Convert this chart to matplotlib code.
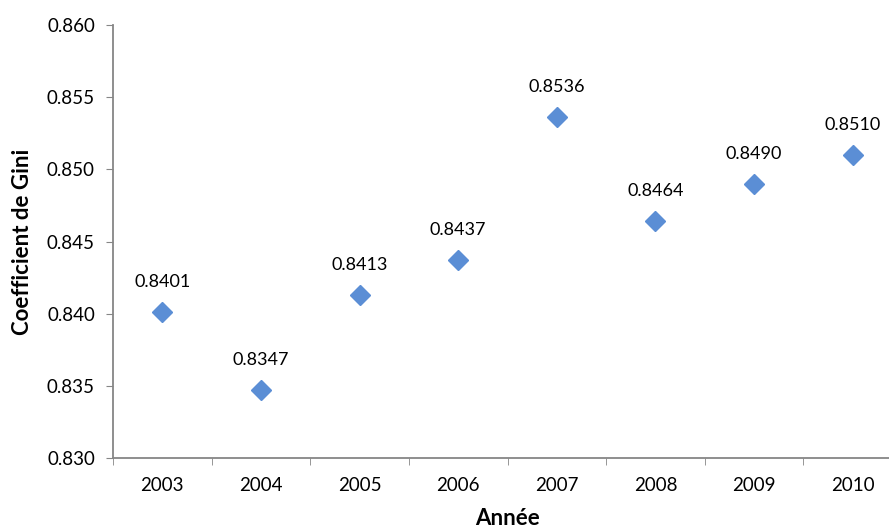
import matplotlib.pyplot as plt
import numpy as np

annees = ['2003', '2004', '2005', '2006', '2007', '2008', '2009', '2010']
gini = [0.8401, 0.8347, 0.8413, 0.8437, 0.8536, 0.8464, 0.8490, 0.8510]
yticks = [0.830, 0.835, 0.840, 0.845, 0.850, 0.855, 0.860]

plt.rcParams['font.family'] = ['Lato', 'DejaVu Sans']

fig = plt.figure(figsize=(8.89, 5.32), dpi=100)
ax = fig.add_axes([113 / 889, 74 / 532, 789 / 889, 433 / 532])

x = np.arange(len(annees))
ax.plot(x, gini, linestyle='none', marker='D', markersize=10, color='#5B8ED5')
for xi, v in zip(x, gini):
    ax.annotate('%.4f' % v, (xi, v), xytext=(0, 16), textcoords='offset points',
                ha='center', va='bottom', fontsize=13)

ax.set_xlim(-0.5, len(annees) - 0.5)
ax.set_ylim(0.830, 0.860)
ax.set_yticks(yticks)
ax.set_yticklabels(['%.3f' % t for t in yticks])
ax.set_xticks(x)
ax.set_xticklabels(annees)
ax.set_xticks(np.arange(-0.5, len(annees)), minor=True)
ax.tick_params(axis='x', which='major', length=0, pad=14, labelsize=13.5)
ax.tick_params(axis='x', which='minor', length=5, color='#868686')
ax.tick_params(axis='y', length=5, color='#868686', labelsize=13.5, pad=8)

for s in ['top', 'right']:
    ax.spines[s].set_visible(False)
for s in ['left', 'bottom']:
    ax.spines[s].set_color('#868686')
    ax.spines[s].set_linewidth(1.3)

ax.set_xlabel('Année', fontsize=16, fontweight='bold', labelpad=10)
ax.set_ylabel('Coefficient de Gini', fontsize=16, fontweight='bold', labelpad=10)

plt.savefig('out.png', dpi=100)
